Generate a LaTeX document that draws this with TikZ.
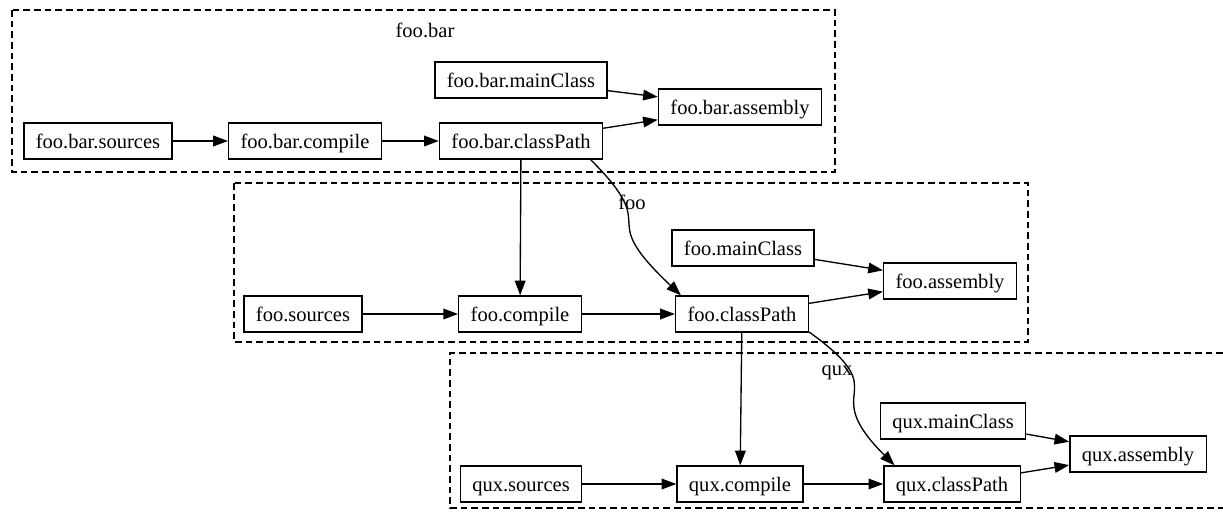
\documentclass[tikz,border=0pt]{standalone}
\usepackage{fontspec}
\setmainfont{Liberation Serif}
\usetikzlibrary{arrows.meta}
\tikzset{
  task/.style={draw,line width=1pt,minimum height=27pt,inner xsep=9pt,text height=12.5pt,text depth=1pt,font=\fontsize{15.4}{18}\selectfont},
  edge/.style={line width=1pt,-{Triangle[length=11pt,width=8pt]}},
  cluster/.style={line width=1pt,dash pattern=on 5pt off 3pt},
  lbl/.style={inner sep=0pt,font=\fontsize{15.4}{18}\selectfont}
}
\begin{document}
\begin{tikzpicture}[x=0.75pt,y=-0.75pt]
\useasboundingbox (0,0) rectangle (1223,516);
\draw[cluster] (12,10) rectangle (835,172);
\draw[cluster] (234,183) rectangle (1028,342);
\draw[cluster] (1223,353)--(450,353)--(450,508)--(1223,508);
\node[lbl] (tfoobar) at (425,30) {foo.bar};
\node[task] (fbsrc) at (98,141) {foo.bar.sources};
\node[task] (fbcomp) at (305,141) {foo.bar.compile};
\node[task] (fbcp) at (521,141) {foo.bar.classPath};
\node[task] (fbmain) at (521,80) {foo.bar.mainClass};
\node[task] (fbasm) at (740,107) {foo.bar.assembly};
\node[task] (fsrc) at (303,314) {foo.sources};
\node[task] (fcomp) at (520,314) {foo.compile};
\node[task] (fcp) at (742,314) {foo.classPath};
\node[task] (fmain) at (743,248) {foo.mainClass};
\node[task] (fasm) at (950,281) {foo.assembly};
\node[task] (qsrc) at (521,484) {qux.sources};
\node[task] (qcomp) at (740,484) {qux.compile};
\node[task] (qcp) at (952,484) {qux.classPath};
\node[task] (qmain) at (953,421) {qux.mainClass};
\node[task] (qasm) at (1138,454) {qux.assembly};
\node[lbl] (lfoo) at (632,202) {foo};
\node[lbl] (lqux) at (837,373) {qux};
\begin{scope}[edge]
\draw (fbsrc)--(fbcomp);
\draw (fbcomp)--(fbcp);
\draw (fbmain)--(fbasm);
\draw (fbcp)--(fbasm);
\draw (fbcp)--(fcomp);
\draw (fbcp.-15) .. controls +(75,75) and +(-90,-85) .. (fcp.163);
\draw (fsrc)--(fcomp);
\draw (fcomp)--(fcp);
\draw (fmain)--(fasm);
\draw (fcp)--(fasm);
\draw (fcp)--(qcomp);
\draw (fcp.-15) .. controls +(90,65) and +(-80,-80) .. (qcp.162);
\draw (qsrc)--(qcomp);
\draw (qcomp)--(qcp);
\draw (qmain)--(qasm);
\draw (qcp)--(qasm);
\end{scope}
\end{tikzpicture}
\end{document}
